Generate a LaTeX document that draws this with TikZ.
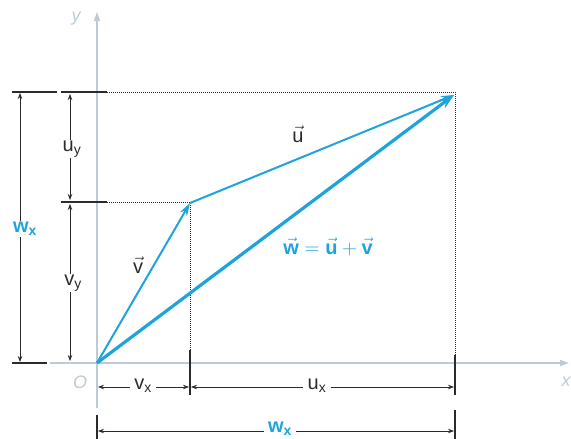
\documentclass[tikz,border=0pt]{standalone}
\usepackage{amsmath}
\usepackage{fontspec}
\setmainfont{Liberation Sans}
\usetikzlibrary{positioning, arrows.meta}
\definecolor{vecBlue}{HTML}{1FA3DC}
\definecolor{axisGray}{HTML}{BCCBD4}
\definecolor{inkDark}{HTML}{2B2B2B}
\tikzset{
  every node/.style={font=\fontsize{20}{22}\selectfont},
  axis/.style={-{Triangle[length=9pt, width=6pt]}, axisGray, line width=1.3pt},
  axlabel/.style={text=axisGray, font=\fontsize{18}{20}\selectfont\itshape},
  vecthin/.style={-{Stealth[length=13pt, width=8pt]}, vecBlue, line width=2pt},
  vecthick/.style={-{Stealth[length=15pt, width=10pt]}, vecBlue, line width=3.2pt},
  dim/.style={-{Stealth[length=6pt, width=4.5pt]}, inkDark, line width=0.8pt},
  tickline/.style={inkDark, line width=1.3pt},
  guide/.style={inkDark, densely dotted, line width=1pt},
  dimlab/.style={inner sep=1pt, text=inkDark},
  bluelab/.style={inner sep=1pt, text=vecBlue, font=\fontsize{20}{22}\selectfont\bfseries},
}

\begin{document}
\begin{tikzpicture}[x=1pt, y=-1pt]
  \useasboundingbox (0,0) rectangle (571,439);
  % points
  \coordinate (O)  at (97,363);
  \coordinate (V)  at (190,203);
  \coordinate (W)  at (454,95);
  % axes
  \coordinate (ybot) at (97,408);
  \coordinate (ytop) at (97,12);
  \coordinate (xlft) at (50,363);
  \coordinate (xrgt) at (569,363);
  \draw[axis] (ybot) -- (ytop);
  \draw[axis] (xlft) -- (xrgt);
  \node[axlabel] (ylab) at (76,19) {y};
  \node[axlabel] (xlab) at (566,382) {x};
  \node[axlabel] (olab) at (80,382) {O};
  % dotted guides
  \coordinate (gtopl) at (107,92);
  \coordinate (gtopr) at (455,92);
  \coordinate (grgtb) at (455,355);
  \coordinate (gmidl) at (107,202);
  \coordinate (gmidr) at (190,202);
  \coordinate (gmidb) at (190,350);
  \draw[guide] (gtopl) -- (gtopr) -- (grgtb);
  \draw[guide] (gmidl) -- (gmidr) -- (gmidb);
  % ticks
  \draw[tickline] (12,92) -- (57,92);
  \draw[tickline] (61,92) -- (107,92);
  \draw[tickline] (61,202) -- (107,202);
  \draw[tickline] (12,363) -- (47,363);
  \draw[tickline] (190,350) -- (190,395);
  \draw[tickline] (455,355) -- (455,395);
  \draw[tickline] (97,415) -- (97,439);
  \draw[tickline] (455,410) -- (455,439);
  % vertical dimensions
  \node[bluelab] (wy) at (25,229) {w$_\text{x}$};
  \draw[dim] (wy.north -| 20,0) -- (20,93);
  \draw[dim] (wy.south -| 20,0) -- (20,362);
  \node[dimlab] (uy) at (72,149) {u$_\text{y}$};
  \draw[dim] (uy.north -| 70,0) -- (70,94);
  \draw[dim] (uy.south -| 70,0) -- (70,200);
  \node[dimlab] (vy) at (73,283) {v$_\text{y}$};
  \draw[dim] (vy.north -| 70,0) -- (70,204);
  \draw[dim] (vy.south -| 70,0) -- (70,361);
  % horizontal dimensions
  \node[dimlab, inner sep=4pt] (vx) at (143,386) {v$_\text{x}$};
  \draw[dim] (vx.west |- 0,387) -- (98,387);
  \draw[dim] (vx.east |- 0,387) -- (189,387);
  \node[dimlab, inner sep=4pt] (ux) at (317,386) {u$_\text{x}$};
  \draw[dim] (ux.west |- 0,387) -- (191,387);
  \draw[dim] (ux.east |- 0,387) -- (454,387);
  \node[bluelab, inner sep=4pt] (wx) at (280,429) {w$_\text{x}$};
  \draw[dim] (wx.west |- 0,431) -- (98,431);
  \draw[dim] (wx.east |- 0,431) -- (454,431);
  % vectors
  \draw[vecthin] (O) -- (V);
  \draw[vecthin] (V) -- (W);
  \draw[vecthick] (O) -- (W);
  \node[dimlab] (vlab) at (138,265) {$\vec{\text{v}}$};
  \node[dimlab] (ulab) at (298,134) {$\vec{\text{u}}$};
  \node[bluelab] (wlab) at (328,247) {$\vec{\text{w}}=\vec{\text{u}}+\vec{\text{v}}$};
\end{tikzpicture}
\end{document}
